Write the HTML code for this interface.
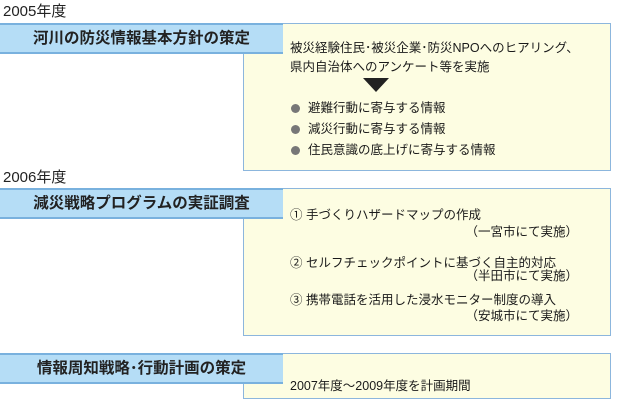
<!DOCTYPE html><html><head><meta charset="utf-8"><style>
body{margin:0;width:618px;height:402px;background:#fff;position:relative;font-family:"Liberation Sans","Noto Sans CJK JP",sans-serif;color:#222;overflow:hidden}
.y{position:absolute;font-size:15px;left:3px}
.box{position:absolute;left:243px;width:368px;background:#fdfde2;border:1px solid #8cb6dd;box-sizing:border-box}
.hd{position:absolute;left:0;width:283px;height:31px;background:#b5ddf6;border-top:2px solid #79b1de;border-bottom:2px solid #79b1de;box-sizing:border-box;font-size:15.5px;font-weight:bold;text-align:center;line-height:27px;color:#222}
.t{position:absolute;font-size:12.5px;white-space:nowrap;color:#1a1a1a}
.b::before{content:"";display:inline-block;width:9px;height:9px;border-radius:50%;background:#777;margin-right:8px;vertical-align:-1px}
</style></head><body>
<div class="y" style="top:0">2005年度</div>
<div class="box" style="top:23px;height:148px"></div>
<div class="hd" style="top:23px">河川の防災情報基本方針の策定</div>
<div class="t" style="left:290px;top:37px">被災経験住民･被災企業･防災NPOへのヒアリング、</div>
<div class="t" style="left:290px;top:56px">県内自治体へのアンケート等を実施</div>
<div style="position:absolute;left:363px;top:78px;width:0;height:0;border-left:13px solid transparent;border-right:13px solid transparent;border-top:14px solid #222"></div>
<div class="t b" style="left:291px;top:97px">避難行動に寄与する情報</div>
<div class="t b" style="left:291px;top:118px">減災行動に寄与する情報</div>
<div class="t b" style="left:291px;top:139px">住民意識の底上げに寄与する情報</div>
<div class="y" style="top:166px">2006年度</div>
<div class="box" style="top:188px;height:148px"></div>
<div class="hd" style="top:188px">減災戦略プログラムの実証調査</div>
<div class="t" style="left:290px;top:204px">① 手づくりハザードマップの作成</div>
<div class="t" style="right:40px;top:221px">（一宮市にて実施）</div>
<div class="t" style="left:290px;top:252px">② セルフチェックポイントに基づく自主的対応</div>
<div class="t" style="right:40px;top:265px">（半田市にて実施）</div>
<div class="t" style="left:290px;top:289px">③ 携帯電話を活用した浸水モニター制度の導入</div>
<div class="t" style="right:40px;top:305px">（安城市にて実施）</div>
<div class="box" style="top:353px;height:46px"></div>
<div class="hd" style="top:353px">情報周知戦略･行動計画の策定</div>
<div class="t" style="left:290px;top:375px">2007年度～2009年度を計画期間</div>
</body></html>
